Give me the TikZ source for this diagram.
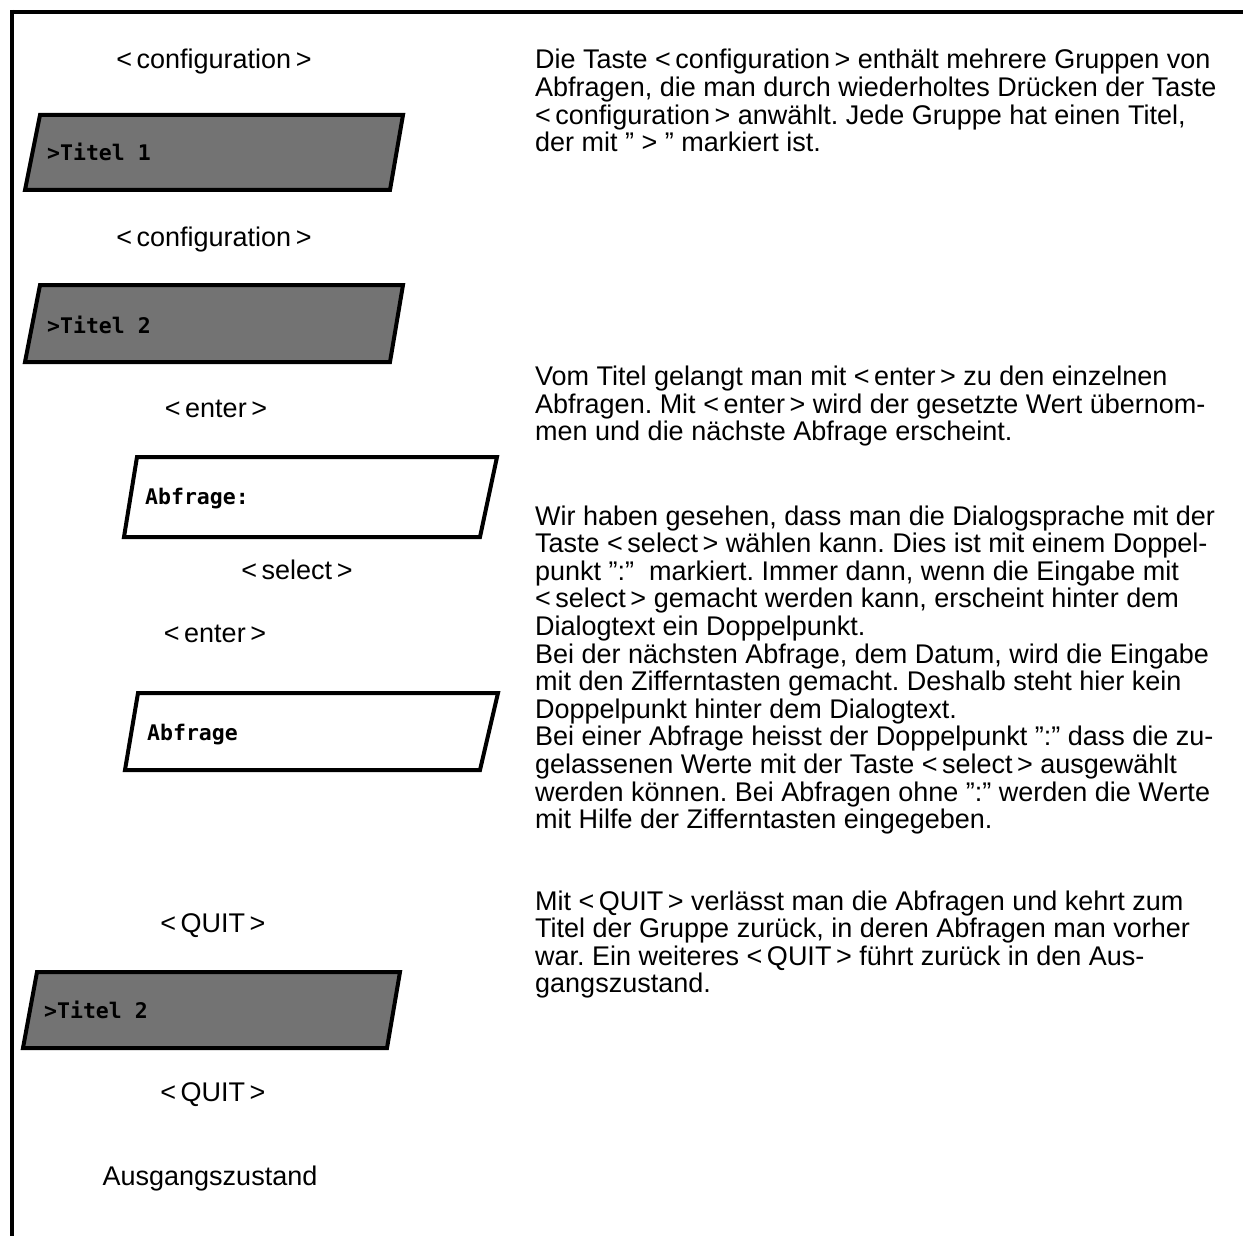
\documentclass[tikz,border=0pt]{standalone}
\usepackage{fontspec}
\setmainfont{Liberation Sans}
\newfontfamily\boxmono{DejaVu Sans Mono}[BoldFont={DejaVu Sans Mono Bold}]
\frenchspacing
\begin{document}
\begin{tikzpicture}[x=1pt,y=-1pt,
  lbl/.style={anchor=base,inner sep=0pt,font=\fontsize{27}{27.6}\selectfont},
  txt/.style={anchor=base west,inner sep=0pt,font=\fontsize{27}{27.6}\selectfont},
  scr/.style={anchor=base west,inner sep=0pt,font=\boxmono\bfseries\fontsize{21.5}{24}\selectfont},
  darkbox/.style={draw=black,line width=4pt,fill=black!55,line join=miter},
  lightbox/.style={draw=black,line width=4pt,fill=white,line join=miter},
  frame/.style={line width=4pt}]
\useasboundingbox (0,0) rectangle (1243,1236);
% frame
\draw[frame] (10,12) -- (1243,12);
\draw[frame] (12,10) -- (12,1236);
% left column
\node[lbl] (c1) at (214,69) {<\,configuration\,>};
\draw[darkbox] (40,115) -- (403,115) -- (390,190) -- (25,190) -- cycle;
\node[scr] (t1) at (47,161) {>Titel 1};
\node[lbl] (c2) at (214,246) {<\,configuration\,>};
\draw[darkbox] (40,285) -- (403,285) -- (390,362) -- (25,362) -- cycle;
\node[scr] (t2) at (47,333) {>Titel 2};
\node[lbl] (e1) at (216,417) {<\,enter\,>};
\draw[lightbox] (137,457) -- (497,457) -- (480,537) -- (124,537) -- cycle;
\node[scr] (a1) at (145,504) {Abfrage:};
\node[lbl] (s1) at (297,579) {<\,select\,>};
\node[lbl] (e2) at (215,642) {<\,enter\,>};
\draw[lightbox] (138,693) -- (498,693) -- (480,770) -- (125,770) -- cycle;
\node[scr] (a2) at (147,740) {Abfrage};
\node[lbl] (q1) at (213,932) {<\,QUIT\,>};
\draw[darkbox] (37,972) -- (400,972) -- (387,1048) -- (23,1048) -- cycle;
\node[scr] (t3) at (44,1018) {>Titel 2};
\node[lbl] (q2) at (213,1101) {<\,QUIT\,>};
\node[lbl] (az) at (210,1185) {Ausgangszustand};
% right column
\node[txt] (r1) at (535,69) {Die Taste <\,configuration\,> enthält mehrere Gruppen von};
\node[txt] (r2) at (535,96.6) {Abfragen, die man durch wiederholtes Drücken der Taste};
\node[txt] (r3) at (535,124.2) {<\,configuration\,> anwählt. Jede Gruppe hat einen Titel,};
\node[txt] (r4) at (535,151.8) {der mit ” > ” markiert ist.};
\node[txt] (v1) at (535,385.5) {Vom Titel gelangt man mit <\,enter\,> zu den einzelnen};
\node[txt] (v2) at (535,413.1) {Abfragen. Mit <\,enter\,> wird der gesetzte Wert übernom-};
\node[txt] (v3) at (535,440.7) {men und die nächste Abfrage erscheint.};
\node[txt] (w1) at (535,525) {Wir haben gesehen, dass man die Dialogsprache mit der};
\node[txt] (w2) at (535,552.6) {Taste <\,select\,> wählen kann. Dies ist mit einem Doppel-};
\node[txt] (w3) at (535,580.2) {punkt ”:”\ \ markiert. Immer dann, wenn die Eingabe mit};
\node[txt] (w4) at (535,607.8) {<\,select\,> gemacht werden kann, erscheint hinter dem};
\node[txt] (w5) at (535,635.4) {Dialogtext ein Doppelpunkt.};
\node[txt] (w6) at (535,663) {Bei der nächsten Abfrage, dem Datum, wird die Eingabe};
\node[txt] (w7) at (535,690.6) {mit den Zifferntasten gemacht. Deshalb steht hier kein};
\node[txt] (w8) at (535,718.2) {Doppelpunkt hinter dem Dialogtext.};
\node[txt] (w9) at (535,745.8) {Bei einer Abfrage heisst der Doppelpunkt ”:” dass die zu-};
\node[txt] (w10) at (535,773.4) {gelassenen Werte mit der Taste <\,select\,> ausgewählt};
\node[txt] (w11) at (535,801) {werden können. Bei Abfragen ohne ”:” werden die Werte};
\node[txt] (w12) at (535,828.6) {mit Hilfe der Zifferntasten eingegeben.};
\node[txt] (m1) at (535,910) {Mit <\,QUIT\,> verlässt man die Abfragen und kehrt zum};
\node[txt] (m2) at (535,937.6) {Titel der Gruppe zurück, in deren Abfragen man vorher};
\node[txt] (m3) at (535,965.2) {war. Ein weiteres <\,QUIT\,> führt zurück in den Aus-};
\node[txt] (m4) at (535,992.8) {gangszustand.};
\end{tikzpicture}
\end{document}
